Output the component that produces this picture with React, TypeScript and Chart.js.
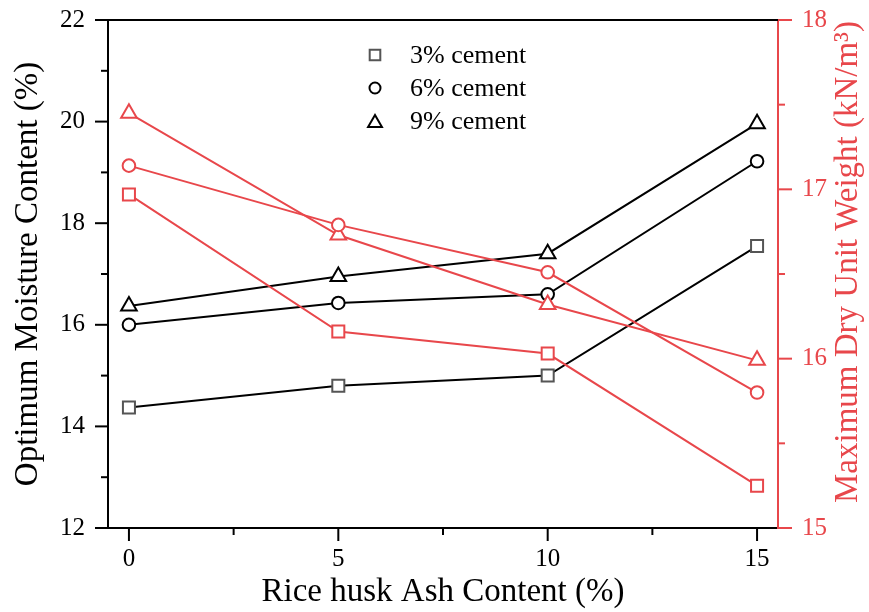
import React, { useEffect, useRef } from 'react';
import { Chart, registerables } from 'chart.js';

Chart.register(...registerables);

// ---- data ----
const ashContent = [0, 5, 10, 15];
const omc3 = [14.37, 14.8, 15.0, 17.55];
const omc6 = [16.0, 16.43, 16.6, 19.22];
const omc9 = [16.37, 16.95, 17.4, 19.96];
const mdd3 = [16.97, 16.16, 16.03, 15.25];
const mdd6 = [17.14, 16.79, 16.51, 15.8];
const mdd9 = [17.45, 16.73, 16.32, 15.99];

const xTicks = [0, 5, 10, 15];
const xMinorTicks = [2.5, 7.5, 12.5];
const omcTicks = [12, 14, 16, 18, 20, 22];
const omcMinorTicks = [13, 15, 17, 19, 21];
const mddTicks = [15, 16, 17, 18];
const mddMinorTicks = [15.5, 16.5, 17.5];
const legendLabels = ['3% cement', '6% cement', '9% cement'];
const rightTitle = 'Maximum Dry Unit Weight (kN/m\u00B3)';

const RED = '#e8474b';
const GREY = '#555555';
const BLACK = '#000000';
const FONT = "'Liberation Serif', 'Times New Roman', serif";

const toPoints = (vals: number[]) => ashContent.map((x, i) => ({ x, y: vals[i] }));

function drawMarker(ctx: CanvasRenderingContext2D, style: string, x: number, y: number, r: number, color: string) {
  ctx.save();
  ctx.strokeStyle = color;
  ctx.fillStyle = '#ffffff';
  ctx.lineWidth = 2;
  ctx.beginPath();
  if (style === 'rect') {
    const s = r * Math.SQRT1_2;
    ctx.rect(x - s, y - s, 2 * s, 2 * s);
  } else if (style === 'circle') {
    ctx.arc(x, y, r, 0, Math.PI * 2);
  } else {
    const w = r;
    ctx.moveTo(x, y - r);
    ctx.lineTo(x + Math.sin((2 * Math.PI) / 3) * w, y + r / 2);
    ctx.lineTo(x - Math.sin((2 * Math.PI) / 3) * w, y + r / 2);
    ctx.closePath();
  }
  ctx.fill();
  ctx.stroke();
  ctx.restore();
}

const decorPlugin = {
  id: 'decor',
  afterDraw(chart: any) {
    const ctx: CanvasRenderingContext2D = chart.ctx;
    const a = chart.chartArea;
    const { x, y, y1 } = chart.scales;
    ctx.save();
    ctx.lineWidth = 2;
    ctx.lineCap = 'butt';
    // top frame line
    ctx.strokeStyle = BLACK;
    ctx.beginPath();
    ctx.moveTo(a.left - 1, a.top);
    ctx.lineTo(a.right, a.top);
    ctx.stroke();

    const seg = (x0: number, y0: number, x1: number, y1p: number, c: string) => {
      ctx.strokeStyle = c;
      ctx.beginPath();
      ctx.moveTo(x0, y0);
      ctx.lineTo(x1, y1p);
      ctx.stroke();
    };
    xTicks.forEach((v) => { const p = x.getPixelForValue(v); seg(p, a.bottom, p, a.bottom + 13, BLACK); });
    xMinorTicks.forEach((v) => { const p = x.getPixelForValue(v); seg(p, a.bottom, p, a.bottom + 7, BLACK); });
    omcTicks.forEach((v) => { const p = y.getPixelForValue(v); seg(a.left, p, a.left - 13, p, BLACK); });
    omcMinorTicks.forEach((v) => { const p = y.getPixelForValue(v); seg(a.left, p, a.left - 7, p, BLACK); });
    mddTicks.forEach((v) => { const p = y1.getPixelForValue(v); seg(a.right, p, a.right + 14, p, RED); });
    mddMinorTicks.forEach((v) => { const p = y1.getPixelForValue(v); seg(a.right, p, a.right + 7, p, RED); });

    // right axis title, reading bottom to top
    ctx.save();
    ctx.translate(848, (a.top + a.bottom) / 2 - 12);
    ctx.rotate(-Math.PI / 2);
    ctx.font = `33px ${FONT}`;
    ctx.fillStyle = RED;
    ctx.textAlign = 'center';
    ctx.textBaseline = 'middle';
    ctx.fillText(rightTitle, 0, 0);
    ctx.restore();

    // legend
    const styles = ['rect', 'circle', 'triangle'];
    const colors = [GREY, BLACK, BLACK];
    const radii = [7.5, 5.5, 8];
    ctx.font = `26px ${FONT}`;
    ctx.fillStyle = BLACK;
    ctx.textBaseline = 'middle';
    ctx.textAlign = 'left';
    legendLabels.forEach((lab, i) => {
      const ly = 55 + i * 33;
      drawMarker(ctx, styles[i], 375, ly + (i === 2 ? 2 : 0), radii[i], colors[i]);
      ctx.fillText(lab, 410, ly + 1);
    });
    ctx.restore();
  },
};

const noOverflow = (s: any) => {
  s.paddingTop = 0;
  s.paddingBottom = 0;
  s.paddingLeft = 0;
  s.paddingRight = 0;
};

export default function App() {
  const ref = useRef<HTMLCanvasElement | null>(null);
  useEffect(() => {
    if (!ref.current) return;
    const blackDs = (label: string, vals: number[], style: string, r: number, pc: string) => ({
      label,
      data: toPoints(vals),
      yAxisID: 'y',
      borderColor: BLACK,
      borderWidth: 2,
      pointStyle: style,
      pointRadius: r,
      pointBorderColor: pc,
      pointBackgroundColor: '#ffffff',
      pointBorderWidth: 2,
      tension: 0,
    });
    const redDs = (label: string, vals: number[], style: string, r: number) => ({
      label,
      data: toPoints(vals),
      yAxisID: 'y1',
      borderColor: RED,
      borderWidth: 2,
      pointStyle: style,
      pointRadius: r,
      pointBorderColor: RED,
      pointBackgroundColor: '#ffffff',
      pointBorderWidth: 2,
      tension: 0,
    });
    const chart = new Chart(ref.current, {
      type: 'line',
      data: {
        datasets: [
          redDs('MDD 3% cement', mdd3, 'rect', 8.5),
          redDs('MDD 6% cement', mdd6, 'circle', 6.3),
          redDs('MDD 9% cement', mdd9, 'triangle', 9),
          blackDs('3% cement', omc3, 'rect', 8.5, GREY),
          blackDs('6% cement', omc6, 'circle', 6.3, BLACK),
          blackDs('9% cement', omc9, 'triangle', 9, BLACK),
        ] as any,
      },
      options: {
        responsive: false,
        animation: false,
        layout: { padding: { top: 20, left: 0, right: 0, bottom: 0 } },
        plugins: { legend: { display: false }, tooltip: { enabled: false } },
        scales: {
          x: {
            type: 'linear',
            position: 'bottom',
            min: -0.5,
            max: 15.5,
            afterBuildTicks: (s: any) => { s.ticks = xTicks.map((v) => ({ value: v })); },
            afterFit: (s: any) => { s.height = 84; noOverflow(s); },
            grid: { display: true, drawOnChartArea: false, drawTicks: false },
            border: { display: true, color: BLACK, width: 2 },
            ticks: { color: BLACK, font: { family: FONT, size: 25 }, padding: 16, maxRotation: 0 },
            title: { display: true, text: 'Rice husk Ash Content (%)', color: BLACK, font: { family: FONT, size: 33 }, padding: { top: 0, bottom: 0 } },
          },
          y: {
            type: 'linear',
            position: 'left',
            min: 12,
            max: 22,
            afterBuildTicks: (s: any) => { s.ticks = omcTicks.map((v) => ({ value: v })); },
            afterFit: (s: any) => { s.width = 108; noOverflow(s); },
            grid: { display: true, drawOnChartArea: false, drawTicks: false },
            border: { display: true, color: BLACK, width: 2 },
            ticks: { color: BLACK, font: { family: FONT, size: 25 }, padding: 23 },
            title: { display: true, text: 'Optimum Moisture Content (%)', color: BLACK, font: { family: FONT, size: 33 }, padding: { top: 9, bottom: 0 } },
          },
          y1: {
            type: 'linear',
            position: 'right',
            min: 15,
            max: 18,
            afterBuildTicks: (s: any) => { s.ticks = mddTicks.map((v) => ({ value: v })); },
            afterFit: (s: any) => { s.width = 91; noOverflow(s); },
            grid: { display: true, drawOnChartArea: false, drawTicks: false },
            border: { display: true, color: RED, width: 2 },
            ticks: { color: RED, font: { family: FONT, size: 25 }, padding: 24 },
            title: { display: false },
          },
        },
      } as any,
      plugins: [decorPlugin],
    });
    return () => chart.destroy();
  }, []);

  return (
    <div style={{ position: 'absolute', left: 0, top: 0, width: 869, height: 612, background: '#ffffff' }}>
      <canvas ref={ref} width={869} height={612} style={{ width: 869, height: 612, display: 'block' }} />
    </div>
  );
}
